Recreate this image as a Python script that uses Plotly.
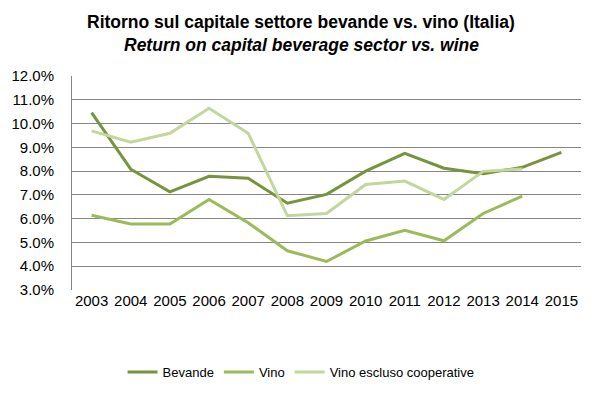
import plotly.graph_objects as go

years = ["2003", "2004", "2005", "2006", "2007", "2008", "2009", "2010",
         "2011", "2012", "2013", "2014", "2015"]
bevande = [10.46, 8.08, 7.13, 7.78, 7.70, 6.65, 7.02, 8.00, 8.75, 8.12, 7.89, 8.16, 8.79]
vino = [6.14, 5.78, 5.78, 6.81, 5.83, 4.65, 4.20, 5.06, 5.51, 5.07, 6.22, 6.95, None]
vino_escl = [9.69, 9.22, 9.59, 10.64, 9.59, 6.12, 6.22, 7.44, 7.58, 6.81, 7.99, 8.09, None]

title_it = "Ritorno sul capitale settore bevande vs. vino (Italia)"
title_en = "Return on capital beverage sector vs. wine"

series = [
    ("Bevande", bevande, "#77933C"),
    ("Vino", vino, "#9BBB59"),
    ("Vino escluso cooperative", vino_escl, "#C3D69B"),
]

fig = go.Figure()
for name, vals, col in series:
    fig.add_trace(go.Scatter(
        x=years, y=[v / 100 if v is not None else None for v in vals],
        mode="lines", name=name,
        line=dict(color=col, width=3),
    ))

# page body has an 8px margin, so the figure is drawn 8px smaller and offset
W, H = 584, 377
L, T = 64, 68
PW, PH = 509, 214

fig.add_annotation(
    text="<b>" + title_it + "</b>", xref="paper", yref="paper",
    x=0.45, y=1 + (T - 14) / PH, xanchor="center", yanchor="middle", showarrow=False,
    font=dict(family="Liberation Sans Narrow, Arial Narrow, Liberation Sans, Arial", size=17.5, color="black"),
)
fig.add_annotation(
    text="<b><i>" + title_en + "</i></b>", xref="paper", yref="paper",
    x=0.45, y=1 + (T - 37) / PH, xanchor="center", yanchor="middle", showarrow=False,
    font=dict(family="Liberation Sans, Arial", size=17.5, color="black"),
)

fig.update_layout(
    width=W, height=H,
    paper_bgcolor="white", plot_bgcolor="white",
    margin=dict(l=L, r=W - L - PW, t=T, b=H - T - PH, autoexpand=False),
    font=dict(family="Liberation Sans, Arial", color="black"),
    showlegend=True,
    legend=dict(
        orientation="h", x=0.45, xanchor="center", y=-82 / PH, yanchor="middle",
        font=dict(size=13, color="black"),
    ),
    xaxis=dict(
        type="category", showgrid=False, showline=False, ticks="",
        tickfont=dict(size=15), range=[-0.5, 12.5],
    ),
    yaxis=dict(
        range=[0.03, 0.12], dtick=0.01, tickformat=".1%",
        showgrid=True, gridcolor="#868686", gridwidth=1,
        showline=True, linecolor="#868686", linewidth=1,
        zeroline=False, ticks="", tickfont=dict(size=15),
        ticklabelstandoff=14,
    ),
)

fig.write_html("out.html")
